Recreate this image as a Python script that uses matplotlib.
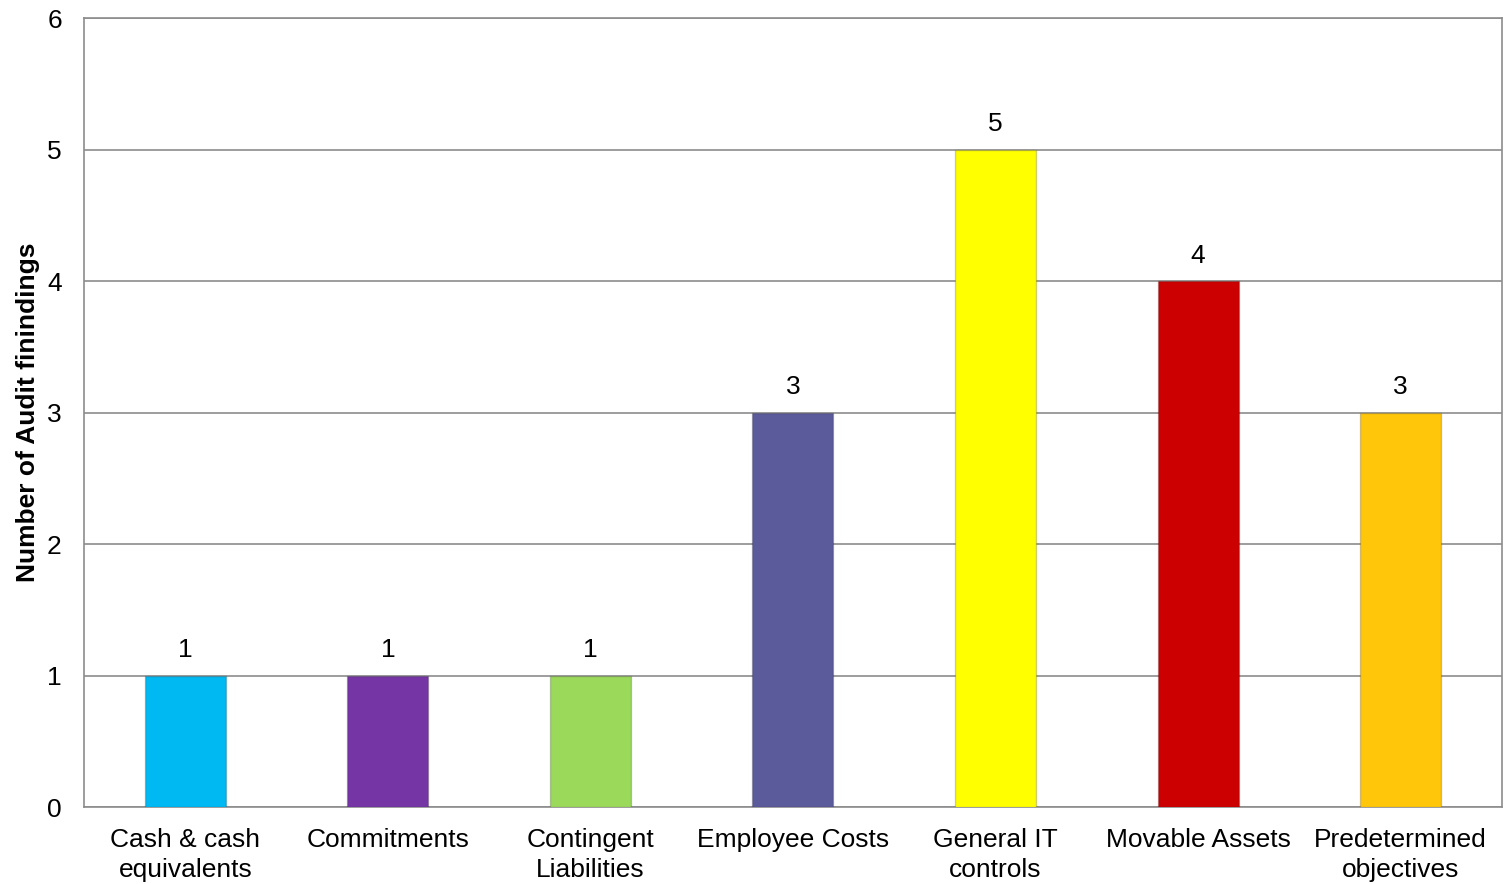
import matplotlib
matplotlib.use('Agg')
import matplotlib.pyplot as plt
import numpy as np

plt.rcParams['font.family'] = ['Liberation Sans', 'DejaVu Sans']

# DATA
categories = ['Cash & cash\nequivalents', 'Commitments', 'Contingent\nLiabilities',
              'Employee Costs', 'General IT\ncontrols', 'Movable Assets',
              'Predetermined\nobjectives']
findings = [1, 1, 1, 3, 5, 4, 3]
bar_colors = ['#00B8F2', '#7535A5', '#9BD95A', '#5B5B9B', '#FFFF00', '#CC0000', '#FFC60A']

fig = plt.figure(figsize=(15.08, 8.84), dpi=100)
ax = fig.add_axes([0.0557, 0.0871, 0.9403, 0.8925])

x = np.arange(len(categories))
bars = ax.bar(x, findings, width=0.40, color=bar_colors, zorder=3,
              edgecolor='#00000030', linewidth=1)

for xi, v in zip(x, findings):
    ax.text(xi, v + 0.1, str(v), ha='center', va='bottom', fontsize=19)

ax.set_ylim(0, 6)
ax.set_xlim(-0.5, len(categories) - 0.5)
ax.set_yticks(range(7))
ax.set_xticks(x)
ax.set_xticklabels(categories, fontsize=19, linespacing=1.35)
ax.tick_params(axis='both', length=0, labelsize=19)
ax.tick_params(axis='y', pad=16)
ax.tick_params(axis='x', pad=15)
ax.yaxis.grid(True, color='#8C8C8C', linewidth=1.2, zorder=0)
for s in ax.spines.values():
    s.set_color('#8C8C8C')
    s.set_linewidth(1.2)
ax.set_ylabel('Number of Audit finindings', fontsize=19, fontweight='bold', labelpad=5)

plt.savefig('out.png', dpi=100)
